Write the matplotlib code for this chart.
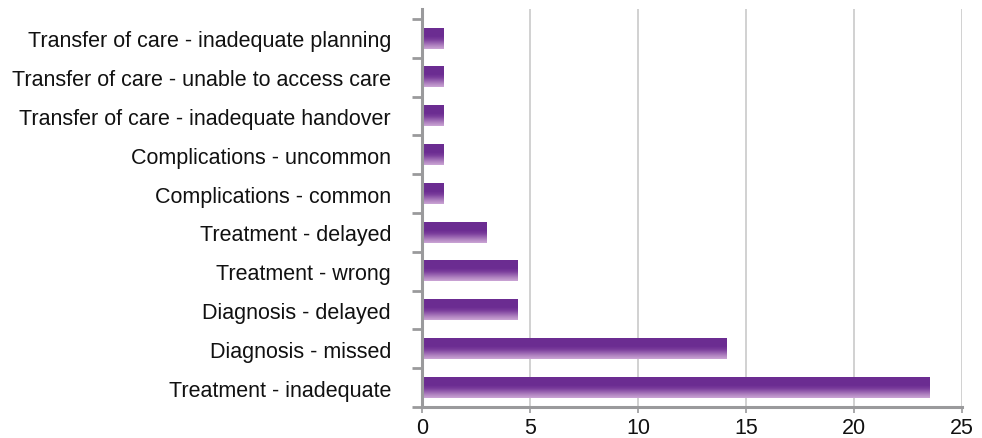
import numpy as np
import matplotlib
matplotlib.use("Agg")
import matplotlib.pyplot as plt
from matplotlib.colors import LinearSegmentedColormap

plt.rcParams["font.family"] = ["Liberation Sans", "DejaVu Sans"]

# data, bottom to top
categories = [
    "Treatment - inadequate",
    "Diagnosis - missed",
    "Diagnosis - delayed",
    "Treatment - wrong",
    "Treatment - delayed",
    "Complications - common",
    "Complications - uncommon",
    "Transfer of care - inadequate handover",
    "Transfer of care - unable to access care",
    "Transfer of care - inadequate planning",
]
counts = [23.5, 14.1, 4.4, 4.4, 3.0, 1, 1, 1, 1, 1]
x_ticks = [0, 5, 10, 15, 20, 25]

AXIS_GREY = "#9a9a9c"
GRID_GREY = "#c9c9c9"
FS = 15.5

# vertical gradient: dark purple on top, lavender at the bottom
grad_cmap = LinearSegmentedColormap.from_list(
    "bar_grad",
    [(0.0, "#cba4d5"), (0.15, "#b286c2"), (0.45, "#7b3d9c"), (0.6, "#6c2d92"), (1.0, "#6b2c91")],
)
gradient = np.linspace(0, 1, 64).reshape(-1, 1)

fig = plt.figure(figsize=(9.82, 4.39), dpi=100)
ax = fig.add_axes([422 / 982, 1 - 408 / 439, (962 - 422) / 982, (408 - 10) / 439])

bar_h = 0.53
for i, v in enumerate(counts):
    ax.imshow(
        gradient,
        cmap=grad_cmap,
        origin="lower",
        extent=[0, v, i - bar_h / 2, i + bar_h / 2],
        aspect="auto",
        interpolation="bilinear",
        zorder=3,
    )

ax.set_xlim(0, 25)
ax.set_ylim(-0.5, len(categories) - 0.5 + 10 / 38.8)

# x axis
ax.set_xticks(x_ticks)
ax.set_xticklabels([str(t) for t in x_ticks], fontsize=FS, color="#111111")
ax.tick_params(axis="x", length=4, width=1.2, color=AXIS_GREY, pad=3)
ax.grid(axis="x", color=GRID_GREY, linewidth=1.2, zorder=0)

# y axis: ticks at category boundaries, labels at centres
ax.set_yticks(np.arange(len(categories) + 1) - 0.5)
ax.set_yticklabels([])
ax.tick_params(axis="y", which="major", length=7, width=2, color=AXIS_GREY, direction="out")
ax.set_yticks(np.arange(len(categories)), minor=True)
ax.set_yticklabels(categories, minor=True, fontsize=FS, color="#111111")
ax.tick_params(axis="y", which="minor", length=0, pad=22.3)

for side in ("top", "right"):
    ax.spines[side].set_visible(False)
ax.spines["left"].set_color(AXIS_GREY)
ax.spines["left"].set_linewidth(2.2)
ax.spines["bottom"].set_color(AXIS_GREY)
ax.spines["bottom"].set_linewidth(2.2)
ax.spines["left"].set_zorder(4)
ax.set_axisbelow(True)

fig.savefig("out.png", dpi=100)
